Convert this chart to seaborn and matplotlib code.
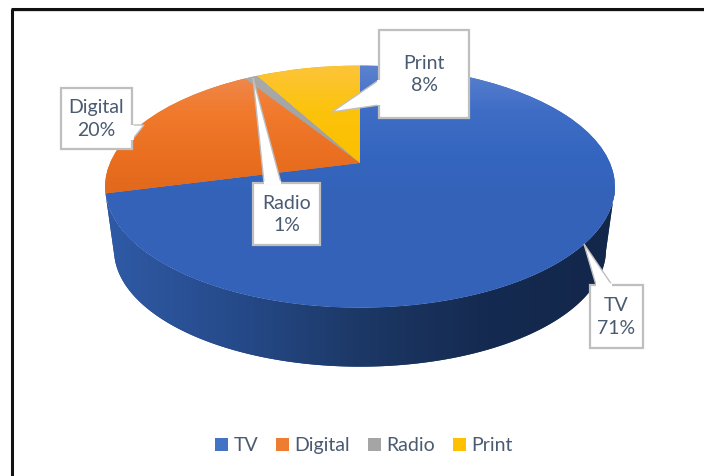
import matplotlib
matplotlib.use("Agg")
import matplotlib.pyplot as plt
import numpy as np
import seaborn as sns
from matplotlib.colors import LinearSegmentedColormap
from matplotlib.patches import Polygon, Rectangle, Patch
from matplotlib.transforms import Transform

# Share of spend by channel (percent)
channels = ["TV", "Digital", "Radio", "Print"]
shares = [71, 20, 1, 8]
legend_colors = ["#4472c4", "#ed7d31", "#a5a5a5", "#ffc000"]

# Vertical shading of the pie's top face, light at the rim to darker below
top_shades = [
    ["#5c82cf", "#3f6dc6", "#3566bf", "#3362b8"],
    ["#ee8c55", "#f17a2d", "#ea6f20", "#e0681c"],
    ["#ababab", "#a5a5a5", "#a0a0a0", "#9a9a9a"],
    ["#fdc43a", "#fcc30c", "#fbc000", "#e6b000"],
]
# Horizontal shading of the rim, left to right
side_shade = ["#2f5aa6", "#264b8b", "#1c3866", "#152a50", "#13274b"]

# Callouts: box left, top, right, bottom, then the pointer's base and tip
callouts = {
    "TV": ((590, 285, 643, 348), [(596, 285), (584, 244), (612, 285)]),
    "Digital": ((61, 88, 132, 149), [(132, 125), (144, 125), (132, 140)]),
    "Radio": ((253, 183, 320, 245), [(264, 183), (253, 78), (281, 183)]),
    "Print": ((379, 30, 469, 118), [(379, 80), (332, 112), (379, 105)]),
}

TEXT = "#4a5a70"
BORDER = "#bfbfbf"
FONT = "Lato"
W, H = 704, 476

# Pie geometry in pixels
CX, CY = 360.0, 163.0
TILT = 0.195
A0, B0 = 250.0, 116.5
RIM_DROP = 64.0
RIM_SCALE = 0.965


class PiePerspective(Transform):
    """Projects the unit-circle pie onto the tilted top face."""
    input_dims = output_dims = 2
    is_separable = False
    has_inverse = False

    def __init__(self, scale=1.0, drop=0.0):
        super().__init__()
        self.scale, self.drop = scale, drop

    def transform_non_affine(self, values):
        v = np.asarray(values, dtype=float)
        den = 1 + TILT * v[:, 1]
        return np.column_stack([
            CX + self.scale * A0 * v[:, 0] / den,
            CY + self.drop - self.scale * B0 * v[:, 1] / den,
        ])


sns.set_theme(style="white")
palette = sns.color_palette(legend_colors)

fig = plt.figure(figsize=(W / 100, H / 100), dpi=100, facecolor="white")
ax = fig.add_axes([0, 0, 1, 1])

wedges, _ = ax.pie(shares, colors=palette, startangle=90, counterclock=False)
ax.set_aspect("auto")
top_face = PiePerspective()
rim_face = PiePerspective(RIM_SCALE, RIM_DROP)


def shaded(colors, extent, clip, z, vertical=True):
    cmap = LinearSegmentedColormap.from_list("shade", colors)
    ramp = np.linspace(0, 1, 256)
    ramp = ramp[:, None] if vertical else ramp[None, :]
    im = ax.imshow(ramp, cmap=cmap, extent=extent, aspect="auto", zorder=z,
                   interpolation="bilinear")
    im.set_clip_path(clip)
    return im


# Rim below the front of the pie; only the TV slice reaches the front.
# The arc stops at the widest point of the ellipse on either side.
tv = wedges[0]
arc = np.radians(np.linspace(tv.theta1, tv.theta2, 400))
arc_pts = np.column_stack([np.cos(arc), np.sin(arc)])
front = arc_pts[arc_pts[:, 1] < -TILT]
upper = top_face.transform_non_affine(front)
lower = rim_face.transform_non_affine(front)
rim = Polygon(np.vstack([upper, lower[::-1]]), closed=True, fc="#1f3d73",
              ec="none", zorder=1)
ax.add_patch(rim)
shaded(side_shade, (105, 615, 370, 180), rim, 1.5, vertical=False)

# Top face: real pie wedges reprojected, with shading clipped to each
for wedge, shades in zip(wedges, top_shades):
    wedge.set_transform(top_face + ax.transData)
    wedge.set_edgecolor("none")
    wedge.set_zorder(2)
    shaded(shades, (100, 620, 200, 66), wedge, 3)
    # below the shaded band each slice keeps its last shade
    wedge.set_facecolor(shades[-1])

# Callouts
for name, share in zip(channels, shares):
    (x0, y0, x1, y1), pointer = callouts[name]
    ax.add_patch(Rectangle((x0, y0), x1 - x0, y1 - y0, fc="white", ec=BORDER,
                           lw=1.6, zorder=6))
    ax.add_patch(Polygon(pointer, closed=True, fc="white", ec=BORDER, lw=1.0,
                         zorder=7))
    # hide the border where the pointer joins its box
    ax.plot([pointer[0][0], pointer[-1][0]], [pointer[0][1], pointer[-1][1]],
            color="white", lw=2.6, zorder=8, solid_capstyle="butt")
    ax.text((x0 + x1) / 2, (y0 + y1) / 2 + 0.5, f"{name}\n{share}%", ha="center",
            va="center", color=TEXT, fontsize=14, family=FONT, linespacing=1.42,
            zorder=9)

handles = [Patch(fc=c, ec="none") for c in palette]
ax.legend(handles, channels, loc="center", bbox_to_anchor=(364 / W, 1 - 445.5 / H),
          ncol=4, frameon=False, handlelength=0.68, handleheight=0.68,
          handletextpad=0.27, columnspacing=0.92, labelcolor=TEXT,
          prop={"family": FONT, "size": 14})

ax.set_xlim(0, W)
ax.set_ylim(H, 0)
ax.set_axis_off()

# Outer chart frame with its pale inner edge along the top
ax.plot([12, W], [11, 11], color="#dde3ea", lw=1.5, zorder=9.5, solid_capstyle="butt")
ax.plot([12, 12], [H, 9], color="#111111", lw=2.2, zorder=10, solid_capstyle="butt")
ax.plot([11, W], [9, 9], color="#111111", lw=2.2, zorder=10, solid_capstyle="butt")

fig.savefig("out.png", dpi=100)
